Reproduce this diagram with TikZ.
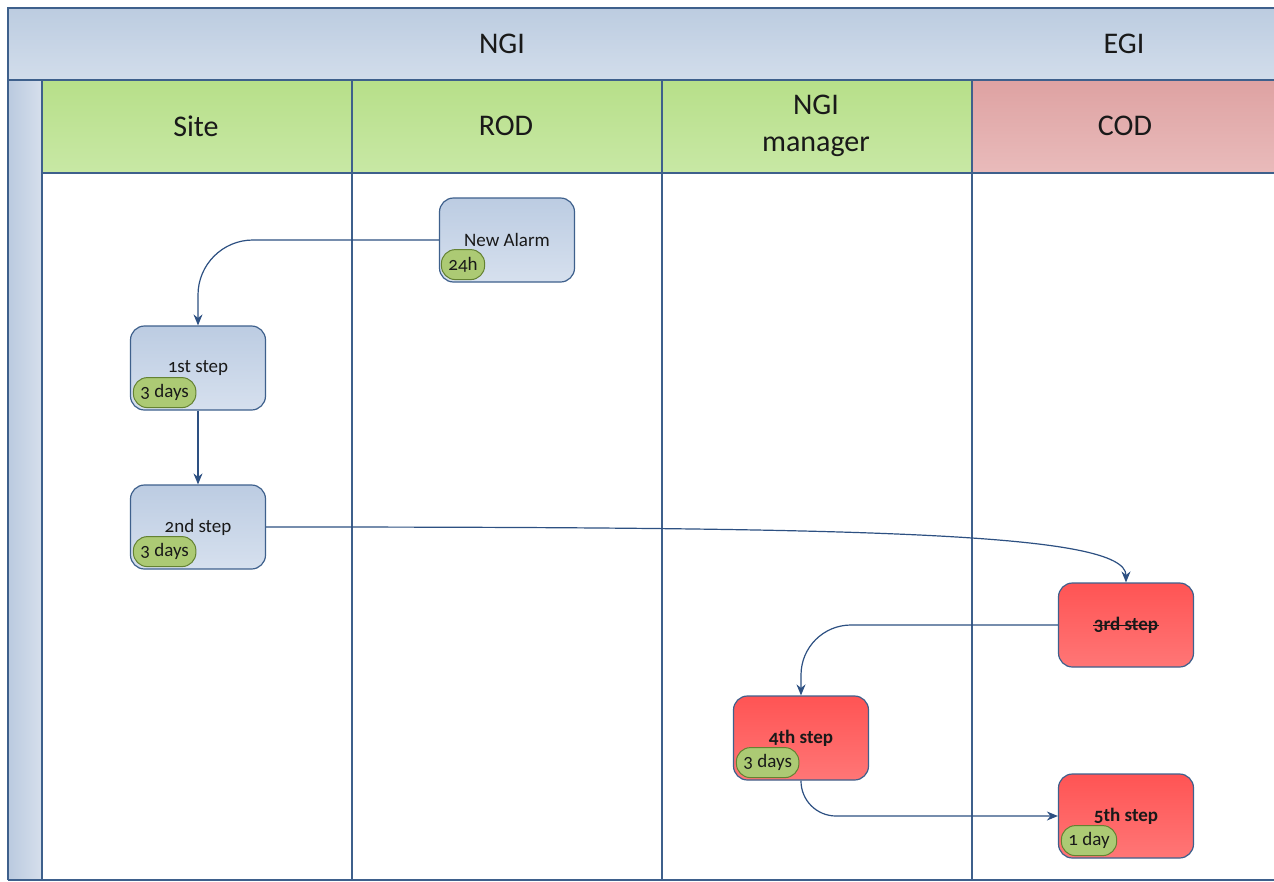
\documentclass[tikz,border=0pt]{standalone}
\usepackage{fontspec}
\setmainfont{Carlito}[Numbers=OldStyle]
\usetikzlibrary{calc,arrows.meta}
\definecolor{framec}{RGB}{62,96,140}
\definecolor{connc}{RGB}{45,80,130}
\definecolor{bandA}{RGB}{188,204,224}
\definecolor{bandB}{RGB}{210,221,235}
\definecolor{stripA}{RGB}{186,202,223}
\definecolor{stripB}{RGB}{214,223,236}
\definecolor{greenA}{RGB}{183,223,137}
\definecolor{greenB}{RGB}{200,232,165}
\definecolor{codA}{RGB}{222,162,162}
\definecolor{codB}{RGB}{233,187,187}
\definecolor{blueA}{RGB}{188,204,226}
\definecolor{blueB}{RGB}{214,224,238}
\definecolor{redA}{RGB}{255,84,84}
\definecolor{redB}{RGB}{255,118,118}
\definecolor{badgeF}{RGB}{172,202,116}
\definecolor{badgeD}{RGB}{100,130,50}
\definecolor{textc}{RGB}{25,25,25}
\tikzset{
  lanetitle/.style={font=\fontsize{30}{36}\selectfont, text=textc, align=center},
  stepbox/.style={draw=framec, line width=1.2pt, rounded corners=14pt,
     minimum width=135pt, minimum height=84pt, font=\fontsize{19}{22}\selectfont, text=textc,
     top color=blueA, bottom color=blueB},
  redbox/.style={stepbox, top color=redA, bottom color=redB, font=\fontsize{19}{22}\selectfont\bfseries},
  badge/.style={draw=badgeD, line width=1pt, fill=badgeF, rounded corners=14pt,
     minimum height=30pt, inner xsep=7pt, inner ysep=0pt, anchor=west,
     font=\fontsize{19}{22}\selectfont, text=textc},
  conn/.style={draw=connc, line width=1.2pt, -{Stealth[length=11pt,width=9pt]}},
  lane/.style={draw=framec, line width=1.3pt}
}
\begin{document}
\begin{tikzpicture}[x=1pt,y=-1pt]
\useasboundingbox (0,0) rectangle (1274,881);
\fill[white] (0,0) rectangle (1274,881);
% bands
\shade[top color=bandA, bottom color=bandB] (8,8) rectangle (1280,80);
\shade[left color=stripA, right color=stripB] (8,80) rectangle (42,880);
\shade[top color=greenA, bottom color=greenB] (42,80) rectangle (972,173);
\shade[top color=codA, bottom color=codB] (972,80) rectangle (1280,173);
% lines
\draw[lane] (8,880) -- (8,8) -- (1280,8);
\draw[lane] (8,80) -- (1280,80);
\draw[lane] (42,173) -- (1280,173);
\draw[lane] (8,880) -- (1280,880);
\foreach \x in {42,352,662,972} \draw[lane] (\x,80) -- (\x,880);
% titles
\node[lanetitle] (tngi) at (502,44) {NGI};
\node[lanetitle] (tegi) at (1124,44) {EGI};
\node[lanetitle] (tsite) at (196,126) {Site};
\node[lanetitle] (trod) at (506,126) {ROD};
\node[lanetitle, font=\fontsize{30}{37}\selectfont] (tmgr) at (816,126) {NGI\\manager};
\node[lanetitle] (tcod) at (1125,126) {COD};
% steps
\node[stepbox] (na) at (507,240) {New Alarm};
\node[stepbox] (s1) at (198,368) {1st step};
\node[stepbox] (s2) at (198,527) {2nd step};
\node[redbox] (s3) at (1126,625) {};
\node[font=\fontsize{19}{22}\selectfont\bfseries, text=textc, inner sep=0pt] (s3t) at (s3.center) {3rd step};
\draw[textc, line width=1.3pt] ($(s3t.base west)+(-1,-5)$) -- ($(s3t.base east)+(1,-5)$);
\node[redbox] (s4) at (801,738) {4th step};
\node[redbox] (s5) at (1126,816) {5th step};
% badges
\node[badge] (bna) at ($(na.south west)+(2,-18)$) {24h};
\node[badge] (b1) at ($(s1.south west)+(3,-18)$) {3 days};
\node[badge] (b2) at ($(s2.south west)+(3,-18)$) {3 days};
\node[badge] (b4) at ($(s4.south west)+(3,-18)$) {3 days};
\node[badge] (b5) at ($(s5.south west)+(3,-18)$) {1 day};
% connectors
\draw[conn, rounded corners=55pt] (na.west) -| (s1.north);
\draw[conn] (s1.south) -- (s2.north);
\draw[conn] (s2.east) .. controls +(600,0) and +(0,-50) .. (s3.north);
\draw[conn, rounded corners=50pt] (s3.west) -| (s4.north);
\draw[conn, rounded corners=35pt] (s4.south) |- (s5.west);
\end{tikzpicture}
\end{document}
